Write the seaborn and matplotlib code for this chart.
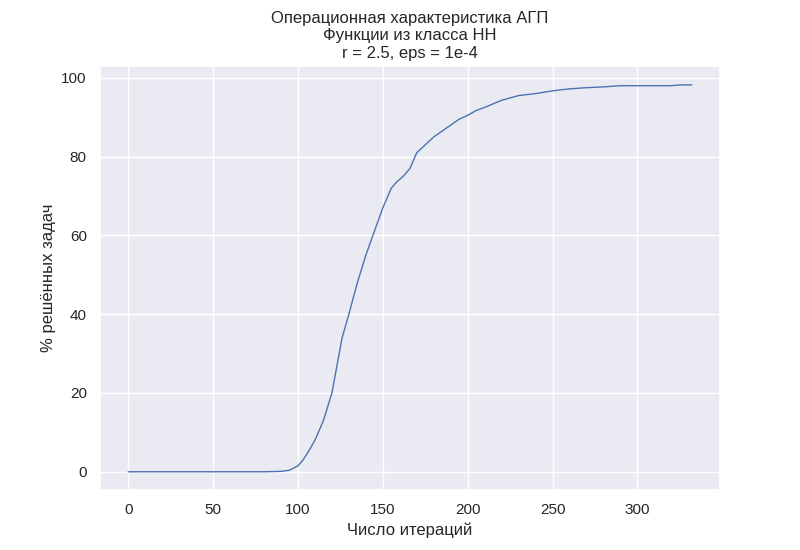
import matplotlib
matplotlib.use("Agg")
import matplotlib.pyplot as plt
import seaborn as sns

iterations = [0, 20, 40, 60, 80, 90, 95, 100, 103, 106, 110, 115, 120, 123, 126, 130, 135, 140,
              145, 150, 155, 158, 162, 166, 170, 175, 180, 185, 190, 195, 200, 205, 210, 220,
              230, 240, 250, 260, 270, 280, 290, 300, 310, 320, 325, 332]
solved = [0, 0, 0, 0, 0, 0.1, 0.4, 1.5, 3, 5, 8, 13, 20, 27, 34, 40, 48, 55,
          61, 67, 72, 73.5, 75, 77, 81, 83, 85, 86.5, 88, 89.5, 90.5, 91.7, 92.5, 94.3,
          95.5, 96, 96.7, 97.2, 97.5, 97.7, 98, 98, 98, 98, 98.2, 98.2]

sns.set_theme(style="darkgrid")
plt.rcParams["font.family"] = ["Liberation Sans", "DejaVu Sans"]

fig, ax = plt.subplots(figsize=(8, 5.5), dpi=100)
sns.lineplot(x=iterations, y=solved, ax=ax, linewidth=1)
ax.set_title("Операционная характеристика АГП\nФункции из класса НН\nr = 2.5, eps = 1e-4")
ax.set_xlabel("Число итераций")
ax.set_ylabel("% решённых задач")
ax.set_ylim(-4.5, 103)
fig.savefig("out.png")
